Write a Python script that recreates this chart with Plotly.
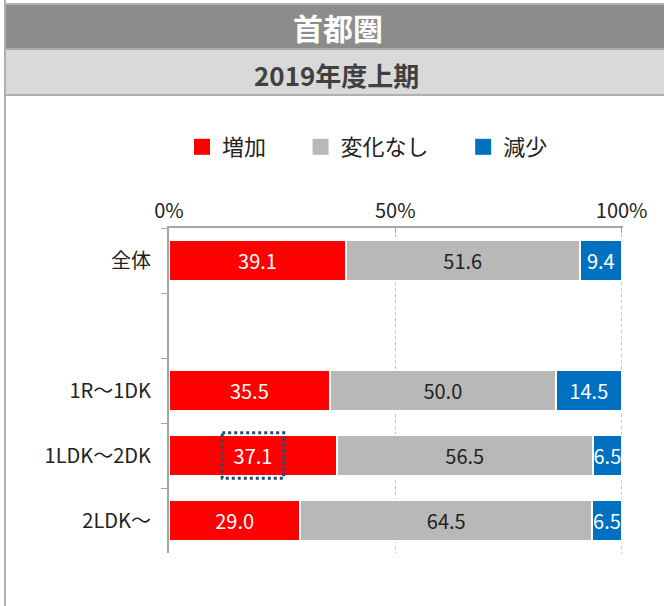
import plotly.graph_objects as go

# --- データ ---
categories = ["全体", " ", "1R～1DK", "1LDK～2DK", "2LDK～"]
increase = [39.1, None, 35.5, 37.1, 29.0]
unchanged = [51.6, None, 50.0, 56.5, 64.5]
decrease = [9.4, None, 14.5, 6.5, 6.5]

series_names = ["増加", "変化なし", "減少"]
series_colors = ["#ff0000", "#b8b8b8", "#0070c0"]
text_colors = ["white", "#222222", "white"]
legend_pad = [6, 6, 0]  # 凡例項目の間隔調整（nbsp の数）

title = "首都圏"
subtitle = "2019年度上期"
x_ticks = [0, 50, 100]

FONT = "Noto Sans CJK JP, Noto Sans, sans-serif"

# ページ上のピクセル配置（664x606）
W, H = 664, 606
L, R, T, B = 169, 41, 228, 53
PW, PH = W - L - R, H - T - B


def px_x(p):
    return (p - L) / PW


def px_y(p):
    return (H - B - p) / PH


fig = go.Figure()

for name, vals, color, tcolor, pad in zip(series_names, [increase, unchanged, decrease],
                                          series_colors, text_colors, legend_pad):
    fig.add_trace(go.Bar(
        y=categories, x=vals, name=name, orientation="h",
        marker=dict(color=color, line=dict(color="white", width=2)),
        text=[f"{v:.1f}" if v is not None else "" for v in vals],
        textposition="inside", insidetextanchor="middle",
        constraintext="none",
        textfont=dict(color=tcolor, size=20, family=FONT),
        showlegend=False, hoverinfo="skip",
    ))
    # 凡例用（大きい四角）
    fig.add_trace(go.Scatter(
        x=[None], y=[None], mode="markers", name=name + "\u00a0" * pad,
        marker=dict(symbol="square", size=16, color=color),
    ))

# --- ヘッダー帯 ---
shapes = [
    dict(type="rect", xref="paper", yref="paper", x0=px_x(6), x1=px_x(680),
         y0=px_y(48), y1=px_y(4), fillcolor="#8c8c8c", line_width=0, layer="below"),
    dict(type="rect", xref="paper", yref="paper", x0=px_x(6), x1=px_x(680),
         y0=px_y(94), y1=px_y(50), fillcolor="#d9d9d9", line_width=0, layer="below"),
    dict(type="line", xref="paper", yref="paper", x0=px_x(6), x1=px_x(680),
         y0=px_y(4), y1=px_y(4), line=dict(color="#b4b4b4", width=2)),
    dict(type="line", xref="paper", yref="paper", x0=px_x(6), x1=px_x(680),
         y0=px_y(49), y1=px_y(49), line=dict(color="#a8a8a8", width=2)),
    dict(type="line", xref="paper", yref="paper", x0=px_x(6), x1=px_x(680),
         y0=px_y(95), y1=px_y(95), line=dict(color="#b0b0b0", width=2)),
    dict(type="line", xref="paper", yref="paper", x0=px_x(5), x1=px_x(5),
         y0=px_y(0), y1=px_y(H), line=dict(color="#b0b0b0", width=2)),
]

# 1LDK～2DK の「増加」ラベルを囲む点線枠
hi = categories.index("1LDK～2DK")
cx = increase[hi] / 2
shapes.append(dict(type="rect", xref="x", yref="y",
                   x0=cx - 6.8, x1=cx + 6.8, y0=hi - 0.35, y1=hi + 0.35,
                   line=dict(color="#1f4e79", width=3, dash="dot")))

annotations = [
    dict(text=f"<b>{title}</b>", xref="paper", yref="paper", x=px_x(338), y=px_y(27),
         xanchor="center", yanchor="middle",
         showarrow=False, font=dict(size=30, color="white", family=FONT)),
    dict(text=f"<b>{subtitle}</b>", xref="paper", yref="paper", x=px_x(336), y=px_y(74),
         xanchor="center", yanchor="middle",
         showarrow=False, font=dict(size=26, color="#404040", family=FONT)),
]

fig.update_layout(
    width=W, height=H,
    margin=dict(l=L, r=R, t=T, b=B),
    paper_bgcolor="white", plot_bgcolor="white",
    barmode="stack", bargap=0.36,
    font=dict(family=FONT, size=20, color="#222222"),
    shapes=shapes, annotations=annotations,
    legend=dict(orientation="h", x=px_x(182), y=px_y(147),
                xanchor="left", yanchor="middle", traceorder="normal",
                font=dict(size=22, color="#222222")),
    xaxis=dict(side="top", range=[0, 100.3], tickvals=x_ticks,
               ticktext=[f"{v}%" for v in x_ticks],
               showline=True, linecolor="#a6a6a6", linewidth=2,
               ticks="inside", ticklen=5, tickcolor="#a6a6a6",
               showgrid=True, gridcolor="#bfbfbf", griddash="dot", gridwidth=1,
               zeroline=False, tickfont=dict(size=20, color="#222222")),
    yaxis=dict(categoryorder="array", categoryarray=categories, autorange="reversed",
               showline=True, linecolor="#a6a6a6", linewidth=2,
               ticks="outside", ticklen=6, tickcolor="#a6a6a6", tickson="boundaries",
               ticklabelstandoff=12, showgrid=False, zeroline=False,
               tickfont=dict(size=20, color="#222222")),
)

# ブラウザ既定の body 余白を消す
fig.write_html("out.html", config={"displayModeBar": False},
               post_script="document.body.style.margin='0';")
